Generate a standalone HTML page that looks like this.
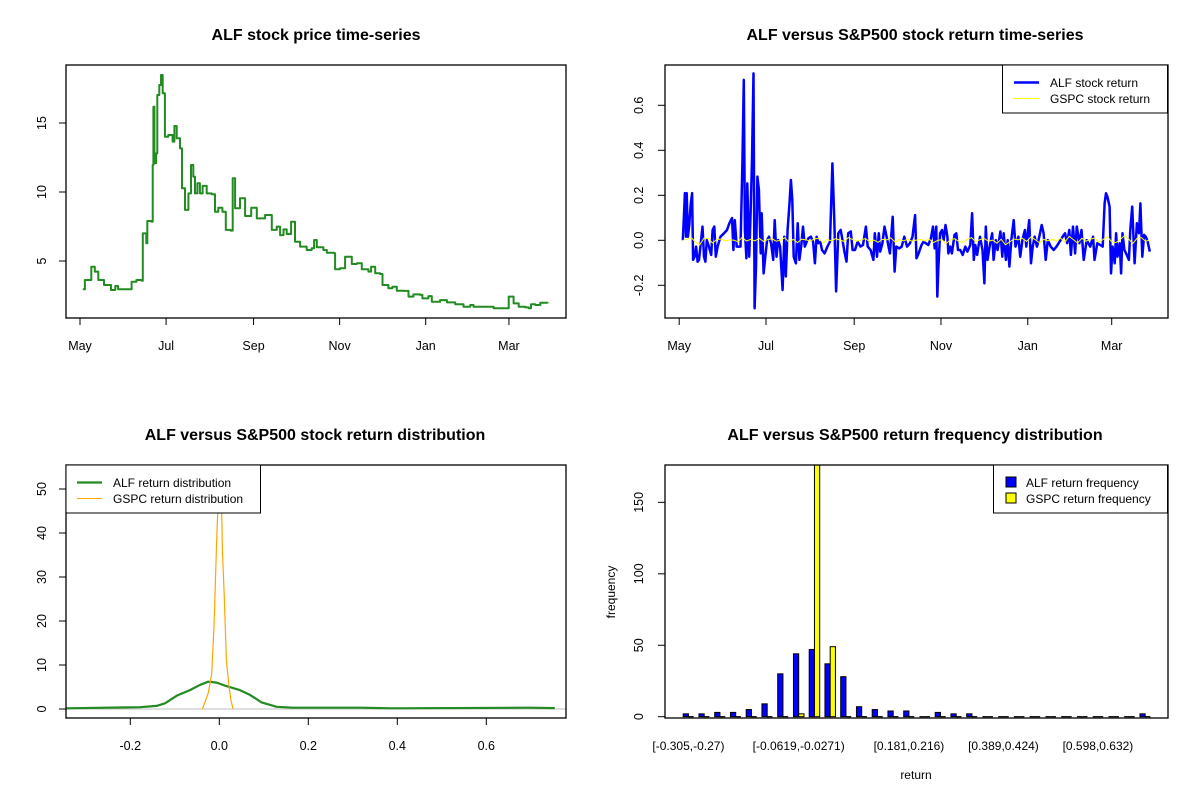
<!DOCTYPE html>
<html><head><meta charset="utf-8">
<style>
html,body{margin:0;padding:0;background:#fff;}
svg{display:block;font-family:"Liberation Sans",Arial,sans-serif;}
</style></head>
<body>
<svg id="chart" width="1200" height="800" viewBox="0 0 1200 800" xmlns="http://www.w3.org/2000/svg">
<rect x="0" y="0" width="1200" height="800" fill="#fff"/>
</svg>
<script>
// ---------- data ----------
const monthLabels = ["May","Jul","Sep","Nov","Jan","Mar"];
const monthDays = [0,61,123,184,245,304];
const priceDays = [2,3.5,8,10.5,13,15,17,22,25,27,32,36.6,40,43.7,44.5,47,47.7,50.8,51.5,52,52.7,53.9,54.8,56.2,57.4,58.6,60.2,62.6,65.6,66.9,68.5,70.9,72.3,74.4,76.8,78.7,80.3,81.5,83.2,85,86.9,89.8,93.3,95.7,98,100.9,103.3,106.8,108.2,109.9,113.4,117,121.3,125.3,130,131.2,135.9,139.4,141.8,144.2,146.5,149.6,152.4,156,160.7,164.2,165.9,167.8,172.5,174.9,180.1,180.8,184.3,187.9,192.6,196.2,199.7,204.4,206.3,209.2,212.7,214.4,218.6,221.4,224.5,229.2,232.8,236.3,241,242.7,246.9,249.3,255.2,260,265.9,271.8,276.6,278.9,290.7,293.1,299,303.8,307.3,310.9,315.6,318,319.6,322.7,326.2,331.4];
const priceValues = [2.95,3.62,4.59,4.23,3.62,3.62,3.26,2.90,3.19,2.95,2.95,3.50,3.62,3.57,7.00,6.28,7.90,7.85,11.96,16.18,12.08,12.80,17.03,17.75,18.48,17.15,14.01,14.13,13.65,14.78,13.89,13.16,10.27,8.70,9.90,11.96,11.11,9.90,10.63,9.90,10.44,9.90,9.83,8.57,8.86,8.57,7.25,7.20,10.99,8.82,9.54,8.26,8.86,8.09,8.09,8.33,7.25,7.49,6.88,7.29,6.96,7.85,6.40,6.04,5.80,5.92,6.52,5.99,5.80,5.60,5.56,4.40,4.47,5.31,4.78,4.83,4.40,4.23,4.59,4.11,4.06,3.26,3.02,3.14,2.85,2.83,2.42,2.58,2.54,2.29,2.46,2.05,2.17,2.00,1.86,1.69,1.81,1.69,1.69,1.57,1.57,2.42,1.93,1.69,1.64,1.57,1.86,1.81,1.98,1.93];
const priceTicks = [5,10,15];

const retDays = [2.5,3.3,4.0,4.8,5.3,6.1,7.1,8.1,9.1,9.8,10.8,11.9,12.9,13.9,14.9,16.4,17.4,18.4,19.4,20.9,22.5,23.5,24.7,25.7,27.0,29.0,31.5,33.6,35.3,37.1,38.1,39.1,40.4,41.6,43.1,44.4,45.4,46.2,47.2,47.9,49.2,50.2,51.2,52.2,53.0,54.0,55.0,56.0,57.3,58.0,59.3,60.5,61.8,63.1,64.6,66.1,67.1,68.4,69.6,70.9,72.7,73.9,74.9,76.2,77.5,78.5,79.5,80.5,82.0,83.3,84.5,85.8,87.0,88.3,89.6,90.8,92.6,94.1,95.4,96.6,97.9,99.2,100.4,102.2,104.2,106.0,107.7,109.0,110.3,111.8,113.5,114.8,116.1,117.6,118.8,120.6,121.9,123.6,125.4,127.4,129.2,131.2,132.5,134.5,136.5,137.5,139.0,140.3,141.3,142.8,144.3,146.3,148.1,150.1,151.4,152.6,154.7,156.4,158.2,160.2,162.2,164.0,165.8,166.8,168.3,170.3,171.8,173.3,175.1,176.9,178.4,179.6,180.7,181.4,182.2,183.4,184.7,185.9,187.2,188.5,189.2,190.5,191.7,193.5,194.8,196.0,197.6,199.3,201.1,202.6,204.6,205.9,207.1,208.1,209.4,211.4,213.2,214.5,215.5,216.7,218.2,220.0,221.0,222.5,223.8,225.8,227.1,228.1,229.6,230.9,232.1,233.4,235.1,236.4,238.4,239.7,241.2,243.0,244.0,246.0,247.3,248.5,249.8,251.5,253.1,254.8,256.1,257.6,259.1,261.1,263.2,265.2,267.4,269.5,271.2,272.7,274.2,275.3,276.8,278.3,279.5,281.3,282.8,284.3,286.4,288.9,290.9,291.9,293.9,295.9,297.7,299.0,300.0,301.0,302.5,303.5,304.6,306.1,307.1,308.1,309.6,310.6,311.6,312.9,314.1,316.1,317.1,318.4,320.1,321.7,323.2,324.2,325.5,326.8,328.0,329.3,330.8];
const alfReturns = [0,.105,.21,.016,.21,.016,.07,.16,.21,-.087,-.073,-.028,-.095,-.087,-.028,.061,-.073,-.095,.001,-.028,-.065,.046,.061,-.073,-.028,.016,.031,.046,.076,.099,-.043,.090,-.028,-.028,-.028,.342,.713,.046,-.080,.253,-.073,.120,.357,.742,-.302,-.117,.283,.224,-.058,.120,-.147,-.073,.001,.016,-.013,-.087,.090,-.073,.001,-.028,-.221,.016,-.161,.046,.164,.268,.179,-.073,-.102,.076,-.087,-.021,.061,-.028,-.006,.009,.016,-.006,-.102,.016,-.013,-.006,-.043,-.058,-.028,-.006,.342,.090,-.227,.031,.046,.001,-.050,-.095,.031,.039,-.043,-.043,-.006,-.028,-.021,.061,-.028,-.043,-.087,.031,-.073,.031,-.050,-.013,.061,.001,-.058,.105,-.139,-.028,-.036,-.028,.016,-.028,-.013,.016,.112,-.080,-.058,-.021,-.006,-.013,-.021,.009,.061,-.036,.061,-.250,-.117,.031,.046,.001,.068,.016,-.058,-.028,-.058,.024,.031,-.043,-.043,-.065,-.028,-.050,-.021,.120,-.087,-.021,-.065,.016,-.043,-.191,.061,-.087,-.028,.031,-.087,.001,-.043,.039,-.073,.031,-.087,.001,-.117,.001,.090,-.028,.016,-.073,.001,.046,-.028,.090,-.102,-.028,.016,-.028,.016,.068,.031,-.087,.001,-.028,-.043,-.028,-.006,.016,.031,-.013,.046,-.065,.061,-.058,.061,-.013,.046,-.087,.001,-.028,.016,-.087,-.013,-.021,-.028,.164,.209,.194,.150,-.147,-.028,-.102,.031,-.073,-.013,-.147,.031,-.043,-.058,-.087,.046,.150,-.102,.076,.031,.164,-.073,.024,.016,-.006,-.050];
const gspcReturns = [0,.005,.012,-.008,-.02,.01,.008,-.012,.003,.006,-.004,.002,.001,-.006,.013,-.003,.004,-.002,.009,-.005,.003,.007,-.004,.001,.011,-.008,.004,-.01,.005,.002,-.003,.006,.009,-.012,.004,-.002,.007,.001,-.005,.012,.003,-.004,.002,.008,-.006,.001,-.009,.004,.002,.011,-.008,.003,-.002,.005,-.004,.001,.004,-.003,.006,-.01,-.001,.003,-.015,.002,.007,-.005,-.009,.004,.012,-.006,.003,.008,-.004,.001,-.013,.005,-.02,-.007,.006,.002,.009,-.005,.015,.003,-.011,.004,-.002,.006,-.003,.01,-.008,.018,.003,-.012,.009,-.004,.005,.01,-.009,.004,.016,-.006,-.01,.003,.02,.006,-.014,.009,.012,-.004,.001];
const retTicks = [-0.2,0,0.2,0.4,0.6];
const retTickLabels = ["-0.2","0.0","0.2","0.4","0.6"];

const densX = [-0.345,-0.178,-0.141,-0.122,-0.096,-0.066,-0.043,-0.025,-0.006,0.016,0.046,0.069,0.095,0.129,0.166,0.316,0.39,0.698,0.754];
const alfDensity = [0.15,0.4,0.7,1.3,3.0,4.3,5.5,6.2,6.0,5.2,4.3,3.2,1.5,0.5,0.3,0.3,0.15,0.3,0.2];
const gspcDensX = [-0.038,-0.025,-0.017,-0.012,-0.006,-0.002,0.001,0.003,0.007,0.011,0.016,0.022,0.026,0.031];
const gspcDensity = [0,3.6,8,18.7,37.7,49,62,58,36,26,11,5,2,0];
const densTicksX = [-0.2,0,0.2,0.4,0.6];
const densTickLabelsX = ["-0.2","0.0","0.2","0.4","0.6"];
const densTicksY = [0,10,20,30,40,50];

const binLabels = ["[-0.305,-0.27)","[-0.0619,-0.0271)","[0.181,0.216)","[0.389,0.424)","[0.598,0.632)"];
const binLabelIdx = [0,7,14,20,26];
const alfFreq = [2,2,3,3,5,9,30,44,47,37,28,7,5,4,4,0,3,2,2,0,0,0,0,0,0,0,0,0,0,2];
const gspcFreq = [0,0,0,0,0,0,0,2,200,49,0,0,0,0,0,0,0,0,0,0,0,0,0,0,0,0,0,0,0,0];
const freqTicks = [0,50,100,150];

// ---------- helpers ----------
const svg = document.getElementById('chart');
const NS = 'http://www.w3.org/2000/svg';
function mk(tag, attrs, parent){
  const e = document.createElementNS(NS, tag);
  for (const k in attrs) e.setAttribute(k, attrs[k]);
  (parent||svg).appendChild(e);
  return e;
}
function txt(s, x, y, size, anchor, parent, rot, bold){
  const t = mk('text', {x:x, y:y, 'font-size':size, 'text-anchor':anchor||'middle', fill:'#000'}, parent);
  if (bold) t.setAttribute('font-weight','bold');
  if (rot) t.setAttribute('transform','rotate(-90 '+x+' '+y+')');
  t.textContent = s;
  return t;
}
function group(name){
  const g = mk('g', {});
  
  
  return g;
}

// ---------- Panel 1: price ----------
(function(){
  const g = group('price-panel');
  const L=66,R=566,T=65,B=318;
  const xs = d => 80 + d*1.411;
  const ys = v => 261 - (v-5)*13.8;
  const t = txt('ALF stock price time-series', 316, 40, 16, 'middle', g, false, true);
  
  
  let pts = '';
  priceDays.forEach((d,i)=>{
    if (i>0) pts += xs(d).toFixed(1)+','+ys(priceValues[i-1]).toFixed(1)+' ';
    pts += xs(d).toFixed(1)+','+ys(priceValues[i]).toFixed(1)+' ';
  });
  const line = mk('polyline', {points:pts, fill:'none', stroke:'#228B22', 'stroke-width':2, 'stroke-linejoin':'round'}, g);
  
  
  const box = mk('rect', {x:L, y:T, width:R-L, height:B-T, fill:'none', stroke:'#000', 'stroke-width':1.3}, g);
  
  
  monthDays.forEach((d,i)=>{
    const x = xs(d);
    mk('line',{x1:x,x2:x,y1:B,y2:B+7,stroke:'#000'},g);
    const l = txt(monthLabels[i], x, 350, 12.5, 'middle', g);
    
    
  });
  mk('line',{x1:xs(0),x2:xs(304),y1:B,y2:B,stroke:'#000'},g);
  priceTicks.forEach(v=>{
    const y = ys(v);
    mk('line',{x1:L,x2:L-7,y1:y,y2:y,stroke:'#000'},g);
    const l = txt(String(v), 46, y, 12.5, 'middle', g, true);
    
    
  });
})();

// ---------- Panel 2: returns ----------
(function(){
  const g = group('return-panel');
  const L=665,R=1168,T=65,B=318;
  const xs = d => 679.2 + d*1.4227;
  const ys = v => 240.3 - v*225;
  const t = txt('ALF versus S&P500 stock return time-series', 915, 40, 16, 'middle', g, false, true);
  
  
  const pts = retDays.map((d,i)=>xs(d).toFixed(1)+','+ys(alfReturns[i]).toFixed(1)).join(' ');
  const line = mk('polyline', {points:pts, fill:'none', stroke:'#0000FF', 'stroke-width':2.5, 'stroke-linejoin':'round'}, g);
  
  
  const n = gspcReturns.length;
  const gp = gspcReturns.map((v,i)=>xs(2.5 + i*(328.3/(n-1))).toFixed(1)+','+ys(v).toFixed(1)).join(' ');
  const gl = mk('polyline', {points:gp, fill:'none', stroke:'#FFFF00', 'stroke-width':1}, g);
  
  
  const box = mk('rect', {x:L, y:T, width:R-L, height:B-T, fill:'none', stroke:'#000', 'stroke-width':1.3}, g);
  
  
  monthDays.forEach((d,i)=>{
    const x = xs(d);
    mk('line',{x1:x,x2:x,y1:B,y2:B+7,stroke:'#000'},g);
    const l = txt(monthLabels[i], x, 350, 12.5, 'middle', g);
    
    
  });
  mk('line',{x1:xs(0),x2:xs(304),y1:B,y2:B,stroke:'#000'},g);
  retTicks.forEach((v,i)=>{
    const y = ys(v);
    mk('line',{x1:L,x2:L-7,y1:y,y2:y,stroke:'#000'},g);
    const l = txt(retTickLabels[i], 643, y, 12.5, 'middle', g, true);
    
    
  });
  const lg = mk('g',{},g);
  
  
  mk('rect',{x:1002.5,y:65,width:165,height:48,fill:'#fff',stroke:'#000'},lg);
  mk('line',{x1:1014,x2:1039,y1:82.5,y2:82.5,stroke:'#0000FF','stroke-width':2.5},lg);
  mk('line',{x1:1014,x2:1039,y1:98.5,y2:98.5,stroke:'#FFFF00','stroke-width':1},lg);
  txt('ALF stock return',1050,87,12,'start',lg);
  txt('GSPC stock return',1050,103,12,'start',lg);
})();

// ---------- Panel 3: density ----------
(function(){
  const g = group('density-panel');
  const L=66,R=566,T=465,B=718;
  const xs = v => 219.3 + v*445;
  const ys = d => 709 - d*4.4;
  const t = txt('ALF versus S&P500 stock return distribution', 315, 440, 16, 'middle', g, false, true);
  
  
  const defs = mk('defs',{},g);
  const cp = mk('clipPath',{id:'clip3'},defs);
  mk('rect',{x:L,y:T,width:R-L,height:B-T},cp);
  const inner = mk('g',{'clip-path':'url(#clip3)'},g);
  mk('line',{x1:L,x2:R,y1:ys(0),y2:ys(0),stroke:'#bebebe'},inner);
  const ap = densX.map((v,i)=>xs(v).toFixed(1)+','+ys(alfDensity[i]).toFixed(1)).join(' ');
  const al = mk('polyline',{points:ap,fill:'none',stroke:'#228B22','stroke-width':2.2,'stroke-linejoin':'round'},inner);
  
  
  const gp = gspcDensX.map((v,i)=>xs(v).toFixed(1)+','+ys(gspcDensity[i]).toFixed(1)).join(' ');
  const gl = mk('polyline',{points:gp,fill:'none',stroke:'#FFA500','stroke-width':1.2},inner);
  
  
  const box = mk('rect', {x:L, y:T, width:R-L, height:B-T, fill:'none', stroke:'#000', 'stroke-width':1.3}, g);
  
  
  densTicksX.forEach((v,i)=>{
    const x = xs(v);
    mk('line',{x1:x,x2:x,y1:B,y2:B+7,stroke:'#000'},g);
    const l = txt(densTickLabelsX[i], x, 750, 12.5, 'middle', g);
    
    
  });
  mk('line',{x1:xs(-0.2),x2:xs(0.6),y1:B,y2:B,stroke:'#000'},g);
  densTicksY.forEach(v=>{
    const y = ys(v);
    mk('line',{x1:L,x2:L-7,y1:y,y2:y,stroke:'#000'},g);
    const l = txt(String(v), 46, y, 12.5, 'middle', g, true);
    
    
  });
  const lg = mk('g',{},g);
  
  
  mk('rect',{x:66,y:465,width:194.5,height:48,fill:'#fff',stroke:'#000'},lg);
  mk('line',{x1:77,x2:102,y1:482.5,y2:482.5,stroke:'#228B22','stroke-width':2.2},lg);
  mk('line',{x1:77,x2:102,y1:498.5,y2:498.5,stroke:'#FFA500','stroke-width':1},lg);
  txt('ALF return distribution',113,487,12,'start',lg);
  txt('GSPC return distribution',113,503,12,'start',lg);
})();

// ---------- Panel 4: frequency bars ----------
(function(){
  const g = group('frequency-panel');
  const L=665,R=1168,T=465,B=718;
  const unit = 5.25;
  const x0 = 683.2 - unit;
  const ys = f => 716.7 - f*1.429;
  const t = txt('ALF versus S&P500 return frequency distribution', 915, 440, 16, 'middle', g, false, true);
  
  
  const defs = mk('defs',{},g);
  const cp = mk('clipPath',{id:'clip4'},defs);
  mk('rect',{x:L,y:T,width:R-L,height:B-T},cp);
  const inner = mk('g',{'clip-path':'url(#clip4)'},g);
  function bar(xb, f, color, name){
    if (f > 0) {
      const b = mk('rect',{x:xb,y:ys(f),width:unit,height:ys(0)-ys(f),fill:color,stroke:'#000','stroke-width':1},inner);
      
      
    } else {
      const b = mk('line',{x1:xb,x2:xb+unit,y1:ys(0),y2:ys(0),stroke:'#000','stroke-width':1.2},inner);
      
      
    }
  }
  alfFreq.forEach((f,i)=>{
    const xb = x0 + (i*3+1)*unit;
    bar(xb, f, '#0000FF', 'alf-frequency-bar');
    bar(xb+unit, gspcFreq[i], '#FFFF00', 'gspc-frequency-bar');
  });
  const box = mk('rect', {x:L, y:T, width:R-L, height:B-T, fill:'none', stroke:'#000', 'stroke-width':1.3}, g);
  
  
  binLabelIdx.forEach((gi,k)=>{
    const xc = x0 + (gi*3+2)*unit;
    const l = txt(binLabels[k], xc, 750, 12, 'middle', g);
    
    
  });
  freqTicks.forEach(v=>{
    const y = ys(v);
    mk('line',{x1:L,x2:L-7,y1:y,y2:y,stroke:'#000'},g);
    const l = txt(String(v), 643, y, 12.5, 'middle', g, true);
    
    
  });
  mk('line',{x1:L,x2:L,y1:ys(0),y2:ys(150),stroke:'#000'},g);
  const xt = txt('return', 916, 779, 12, 'middle', g);
  
  
  const yt = txt('frequency', 615, 592, 12, 'middle', g, true);
  
  
  const lg = mk('g',{},g);
  
  
  mk('rect',{x:993.5,y:465,width:174,height:48,fill:'#fff',stroke:'#000'},lg);
  mk('rect',{x:1006,y:477,width:10,height:10,fill:'#0000FF',stroke:'#000'},lg);
  mk('rect',{x:1006,y:493,width:10,height:10,fill:'#FFFF00',stroke:'#000'},lg);
  txt('ALF return frequency',1026,487,12,'start',lg);
  txt('GSPC return frequency',1026,503,12,'start',lg);
})();
</script>
</body></html>
